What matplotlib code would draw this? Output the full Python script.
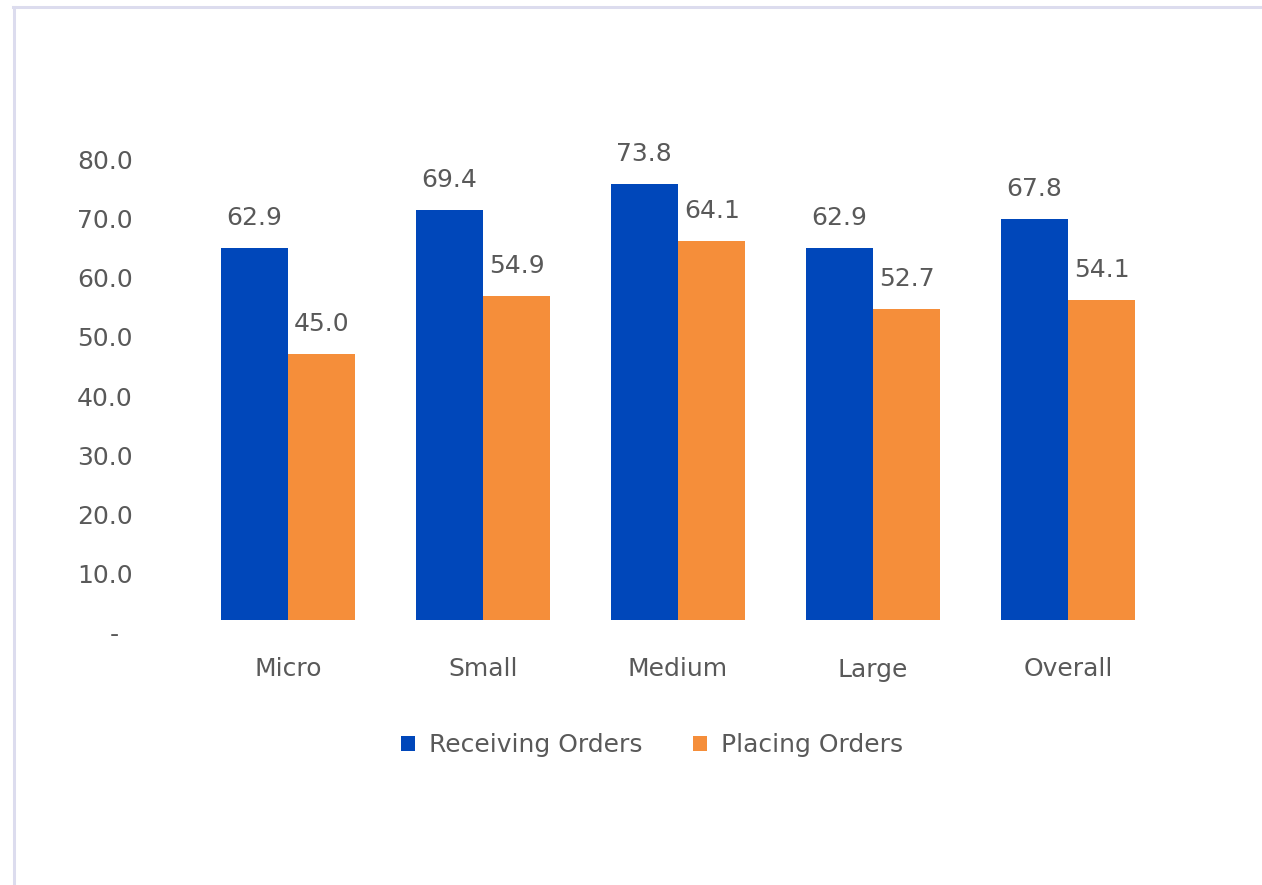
import matplotlib
matplotlib.use("Agg")
from matplotlib import pyplot as plt
from matplotlib.transforms import blended_transform_factory, ScaledTranslation
from matplotlib.lines import Line2D
import numpy as np

categories = ["Micro", "Small", "Medium", "Large", "Overall"]
receiving = [62.9, 69.4, 73.8, 62.9, 67.8]
placing = [45.0, 54.9, 64.1, 52.7, 54.1]
series_names = ["Receiving Orders", "Placing Orders"]
yticks = [0, 10, 20, 30, 40, 50, 60, 70, 80]
ytick_labels = ["-", "10.0", "20.0", "30.0", "40.0", "50.0", "60.0", "70.0", "80.0"]

BLUE = "#0047BA"
ORANGE = "#F58E3A"
GREY = "#595959"
W, H = 1262, 885

plt.rcParams["font.family"] = ["DejaVu Sans"]
fig = plt.figure(figsize=(W / 100, H / 100), dpi=100)

# plot area in pixel terms
x0 = 288
step = 195
left_px = x0 - 0.7 * step
right_px = x0 + 4.6 * step
base_px = 620
unit_px = 5.91
top_px = base_px - 85 * unit_px
ax = fig.add_axes([left_px / W, (H - base_px) / H, (right_px - left_px) / W, (base_px - top_px) / H])

x = np.arange(len(categories))
bw = 0.346
b1 = ax.bar(x - bw / 2, receiving, bw, color=BLUE, label=series_names[0])
b2 = ax.bar(x + bw / 2, placing, bw, color=ORANGE, label=series_names[1])

for bars, vals in ((b1, receiving), (b2, placing)):
    for r, v in zip(bars, vals):
        ax.annotate("%.1f" % v, (r.get_x() + r.get_width() / 2, v), xytext=(0, 16.5),
                    textcoords="offset points", ha="center", va="baseline",
                    fontsize=18, color=GREY)

ax.set_xlim(-0.7, 4.6)
ax.set_ylim(0, 85)
ax.set_xticks(x)
ax.set_xticklabels(categories, fontsize=18, color=GREY)
ax.tick_params(axis="x", length=0, pad=27)
ax.set_yticks([])
for s in ax.spines.values():
    s.set_visible(False)

# value axis labels sit a little below their gridline positions
trans = blended_transform_factory(fig.transFigure, ax.transData) + \
    ScaledTranslation(0, -0.15, fig.dpi_scale_trans)
for v, lab in zip(yticks, ytick_labels):
    xpos = 133 / W if lab != "-" else 119 / W
    ax.text(xpos, v, lab, transform=trans, ha="right", va="center",
            fontsize=18, color=GREY, clip_on=False)

fig.legend(loc="center", bbox_to_anchor=(652 / W, 1 - 745 / H), ncol=2, frameon=False,
           fontsize=18, labelcolor=GREY, handlelength=0.56, handleheight=0.56,
           handletextpad=0.56, columnspacing=2.0)

# light frame on top and left
border = "#DCDCEE"
fig.add_artist(Line2D([13 / W, 1], [1 - 7 / H, 1 - 7 / H], color=border, lw=2.2,
                      transform=fig.transFigure))
fig.add_artist(Line2D([14 / W, 14 / W], [0, 1 - 7 / H], color=border, lw=2.2,
                      transform=fig.transFigure))

fig.savefig("out.png", dpi=100)
